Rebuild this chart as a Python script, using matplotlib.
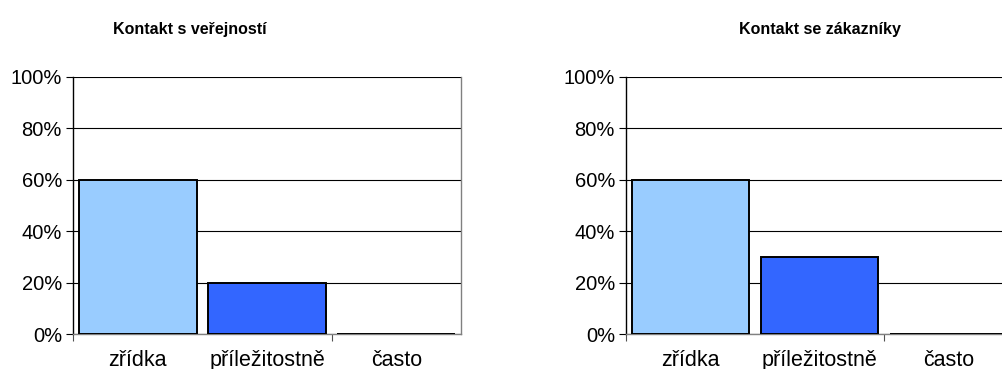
import matplotlib
matplotlib.use("Agg")
import matplotlib.pyplot as plt
from matplotlib.ticker import FixedLocator, FuncFormatter

plt.rcParams['font.family'] = ['Liberation Sans', 'DejaVu Sans']

categories = ['zřídka', 'příležitostně', 'často']
verejnost = [60, 20, 0]
zakaznici = [60, 30, 0]
bar_colors = ['#99CCFF', '#3366FF', '#3366FF']
yticks = [0, 20, 40, 60, 80, 100]

fig = plt.figure(figsize=(10.02, 3.69), dpi=100)
fig.patch.set_facecolor('white')


def draw_panel(rect, values, title, title_x):
    ax = fig.add_axes(rect)
    x = range(len(categories))
    ax.bar(x, values, width=0.91, color=bar_colors, edgecolor='black',
           linewidth=1.4, zorder=3)
    ax.set_xlim(-0.5, len(categories) - 0.5)
    ax.set_ylim(0, 100)

    ax.yaxis.set_major_locator(FixedLocator(yticks))
    ax.yaxis.set_major_formatter(FuncFormatter(lambda v, p: f'{v:.0f}%'))
    ax.grid(axis='y', color='black', linewidth=0.8, zorder=1)
    ax.tick_params(axis='y', direction='out', length=5, width=0.8,
                   labelsize=14.5, pad=3, colors='black')

    ax.set_xticks(list(x))
    ax.set_xticklabels(categories)
    # category separators below the axis
    ax.set_xticks([-0.5, 1.5], minor=True)
    ax.tick_params(axis='x', which='major', length=0, labelsize=15.5, pad=11.5)
    ax.tick_params(axis='x', which='minor', direction='out', length=5,
                   width=0.8, color='#505050')

    ax.spines['left'].set_color('black')
    ax.spines['left'].set_linewidth(1.0)
    ax.spines['top'].set_visible(False)
    for side in ('right', 'bottom'):
        ax.spines[side].set_color('#808080')
        ax.spines[side].set_linewidth(1.0)

    fig.text(title_x, 1 - 34 / 369, title, ha='center', va='baseline',
             fontsize=11.5, fontweight='bold')
    return ax


draw_panel([73 / 1002, 35 / 369, 388 / 1002, 257 / 369], verejnost,
           'Kontakt s veřejností', 190 / 1002)
draw_panel([626 / 1002, 35 / 369, 387 / 1002, 257 / 369], zakaznici,
           'Kontakt se zákazníky', 820 / 1002)

fig.savefig('out.png', dpi=100, facecolor='white')
